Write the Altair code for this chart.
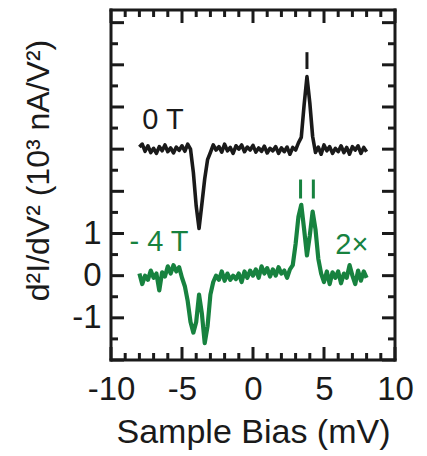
import altair as alt
import pandas as pd

# ---- data ----
bias = [-8.0, -7.8, -7.6, -7.4, -7.2, -7.0, -6.8, -6.6, -6.4, -6.2,
        -6.0, -5.8, -5.6, -5.4, -5.2, -5.0, -4.8, -4.6, -4.4, -4.2,
        -4.0, -3.8, -3.6, -3.4, -3.2, -3.0, -2.8, -2.6, -2.4, -2.2,
        -2.0, -1.8, -1.6, -1.4, -1.2, -1.0, -0.8, -0.6, -0.4, -0.2,
        0.0, 0.2, 0.4, 0.6, 0.8, 1.0, 1.2, 1.4, 1.6, 1.8,
        2.0, 2.2, 2.4, 2.6, 2.8, 3.0, 3.2, 3.4, 3.6, 3.8,
        4.0, 4.2, 4.4, 4.6, 4.8, 5.0, 5.2, 5.4, 5.6, 5.8,
        6.0, 6.2, 6.4, 6.6, 6.8, 7.0, 7.2, 7.4, 7.6, 7.8, 8.0]

# 0 T trace (displayed with an offset of 3)
zero_T = [0.05, 0.12, -0.05, 0.08, -0.08, 0.02, -0.10, 0.06, -0.04, 0.10,
          -0.06, 0.03, -0.09, 0.05, -0.03, 0.08, -0.05, 0.12, 0.00, -0.55,
          -1.35, -1.88, -1.30, -0.70, -0.25, -0.08, 0.10, -0.02, 0.06, -0.07,
          0.12, -0.04, 0.04, -0.10, 0.08, 0.00, 0.10, -0.06, 0.05, -0.02,
          0.09, -0.07, 0.03, -0.05, 0.07, -0.09, 0.02, -0.04, 0.06, -0.10,
          0.03, -0.06, 0.05, -0.12, 0.04, -0.02, 0.15, 0.28, 1.05, 1.72,
          1.10, 0.30, -0.08, 0.05, -0.12, 0.10, -0.04, 0.06, -0.10, 0.02,
          -0.06, 0.08, -0.08, 0.04, -0.12, 0.06, -0.02, 0.08, -0.10, 0.04, -0.06]
zero_T_offset = 3.0

# -4 T trace (shown 2x)
minus4_T = [0.05, -0.20, 0.00, -0.10, 0.12, -0.05, 0.05, -0.35, 0.08, -0.02,
            0.22, 0.05, 0.25, 0.10, 0.20, -0.05, -0.25, -0.60, -1.10, -1.35,
            -1.10, -0.45, -0.90, -1.60, -1.20, -0.45, -0.15, 0.00, -0.10, 0.10,
            -0.12, 0.05, -0.10, 0.00, -0.08, 0.05, -0.15, 0.10, -0.05, 0.12,
            0.00, 0.15, -0.05, 0.22, 0.05, 0.18, -0.02, 0.15, 0.00, 0.20,
            0.05, 0.12, -0.05, 0.15, 0.25, 0.75, 1.40, 1.68, 1.10, 0.48,
            0.95, 1.52, 1.10, 0.40, 0.05, -0.15, 0.10, -0.20, 0.08, -0.05,
            0.10, -0.18, 0.05, -0.05, 0.25, 0.00, -0.20, 0.12, -0.12, 0.10, -0.05]

# peak markers
marker_x = [3.8, 3.35, 4.25]
marker_lo = [4.9, 1.83, 1.83]
marker_hi = [5.3, 2.28, 2.28]
marker_series = ["0 T", "-4 T", "-4 T"]

# in-plot labels
label_text = ["0 T", "- 4 T", "2\u00d7"]
label_x = [-7.8, -8.7, 5.8]
label_y = [3.7, 0.8, 0.72]
label_series = ["0 T", "-4 T", "-4 T"]

# axis ticks
x_label_values = [-10, -5, 0, 5, 10]
y_label_values = [-1, 0, 1]
x_major = [-10, -5, 0, 5, 10]
x_minor = [-9, -8, -7, -6, -4, -3, -2, -1, 1, 2, 3, 4, 6, 7, 8, 9]
y_major = [-2, -1, 0, 1, 2, 3, 4, 5, 6]
y_minor = [-1.5, -0.5, 0.5, 1.5, 2.5, 3.5, 4.5, 5.5]

X_DOMAIN = [-10, 10]
Y_DOMAIN = [-2, 6.3]
W, H = 284, 350
FONT = "Liberation Sans"
BLACK = "#1a1a1a"
GREEN = "#17823f"

# ---- tables ----
df = pd.concat([
    pd.DataFrame({"bias": bias, "val": [v + zero_T_offset for v in zero_T], "series": "0 T"}),
    pd.DataFrame({"bias": bias, "val": minus4_T, "series": "-4 T"}),
])
markers = pd.DataFrame({"x": marker_x, "lo": marker_lo, "hi": marker_hi, "series": marker_series})
labels = pd.DataFrame({"t": label_text, "x": label_x, "y": label_y, "series": label_series})

xs = alt.Scale(domain=X_DOMAIN, nice=False, zero=False)
ys = alt.Scale(domain=Y_DOMAIN, nice=False, zero=False)
color = alt.Color("series:N", scale=alt.Scale(domain=["0 T", "-4 T"], range=[BLACK, GREEN]), legend=None)
width_enc = alt.StrokeWidth("series:N", scale=alt.Scale(domain=["0 T", "-4 T"], range=[3.6, 4.2]), legend=None)

lines = alt.Chart(df).mark_line(strokeJoin="round").encode(
    x=alt.X("bias:Q", scale=xs,
            axis=alt.Axis(values=x_label_values, ticks=False, domain=False, grid=False,
                          labelFontSize=33, labelFont=FONT, labelColor=BLACK, labelPadding=13,
                          labelFlush=False, labelExpr="'' + datum.value",
                          title="Sample Bias (mV)", titleFontSize=34, titleFont=FONT,
                          titleFontWeight="normal", titleColor=BLACK, titlePadding=9)),
    y=alt.Y("val:Q", scale=ys,
            axis=alt.Axis(values=y_label_values, ticks=False, domain=False, grid=False,
                          labelFontSize=33, labelFont=FONT, labelColor=BLACK, labelPadding=10,
                          labelFlush=False, labelExpr="'' + datum.value",
                          title="d\u00b2I/dV\u00b2 (10\u00b3 nA/V\u00b2)", titleFontSize=32, titleFont=FONT,
                          titleFontWeight="normal", titleColor=BLACK, titlePadding=16, titleY=160)),
    color=color,
    strokeWidth=width_enc,
    detail="series:N",
)

mark_rules = alt.Chart(markers).mark_rule(strokeWidth=3).encode(
    x=alt.X("x:Q", scale=xs), y=alt.Y("lo:Q", scale=ys), y2="hi:Q", color=color)

texts = alt.Chart(labels).mark_text(align="left", baseline="middle", fontSize=29, font=FONT).encode(
    x=alt.X("x:Q", scale=xs), y=alt.Y("y:Q", scale=ys), text="t:N", color=color)

def xticks(vals, length):
    d = pd.DataFrame({"v": vals})
    bottom = alt.Chart(d).mark_rule(strokeWidth=3, color=BLACK).encode(
        x=alt.X("v:Q", scale=xs), y=alt.value(H), y2=alt.value(H - length))
    top = alt.Chart(d).mark_rule(strokeWidth=3, color=BLACK).encode(
        x=alt.X("v:Q", scale=xs), y=alt.value(0), y2=alt.value(length))
    return [bottom, top]

def yticks(vals, length):
    d = pd.DataFrame({"v": vals})
    left = alt.Chart(d).mark_rule(strokeWidth=3, color=BLACK).encode(
        y=alt.Y("v:Q", scale=ys), x=alt.value(0), x2=alt.value(length))
    right = alt.Chart(d).mark_rule(strokeWidth=3, color=BLACK).encode(
        y=alt.Y("v:Q", scale=ys), x=alt.value(W), x2=alt.value(W - length))
    return [left, right]

tick_layers = xticks(x_major, 13) + xticks(x_minor, 7) + yticks(y_major, 13) + yticks(y_minor, 7)

# plot frame
frame_df = pd.DataFrame({"k": [0]})
frame = [
    alt.Chart(frame_df).mark_rule(strokeWidth=3, color=BLACK, strokeCap="square").encode(
        x=alt.value(0), x2=alt.value(W), y=alt.value(0)),
    alt.Chart(frame_df).mark_rule(strokeWidth=3, color=BLACK, strokeCap="square").encode(
        x=alt.value(0), x2=alt.value(W), y=alt.value(H)),
    alt.Chart(frame_df).mark_rule(strokeWidth=3, color=BLACK, strokeCap="square").encode(
        y=alt.value(0), y2=alt.value(H), x=alt.value(0)),
    alt.Chart(frame_df).mark_rule(strokeWidth=3, color=BLACK, strokeCap="square").encode(
        y=alt.value(0), y2=alt.value(H), x=alt.value(W)),
]

chart = alt.layer(lines, mark_rules, texts, *tick_layers, *frame).properties(
    width=W, height=H,
    autosize=alt.AutoSizeParams(type="none"),
    padding={"left": 103, "top": 2, "right": 20, "bottom": 90},
).configure_view(stroke=None).configure(background="white")

chart.save("out.html", embed_options={"renderer": "svg", "actions": False})
